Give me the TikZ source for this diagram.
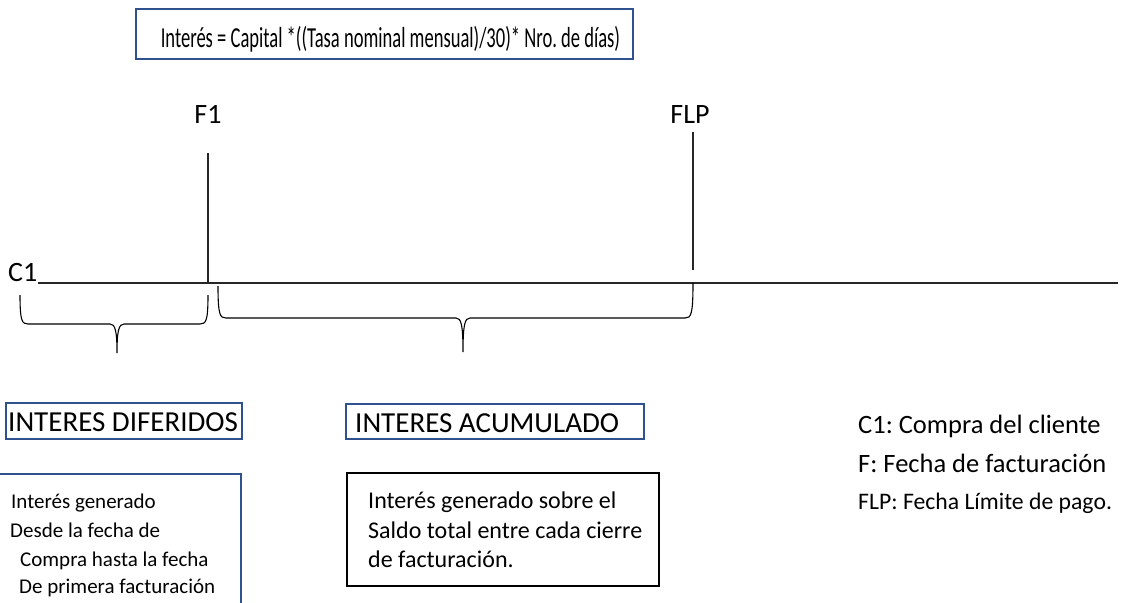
\documentclass[tikz,border=0pt]{standalone}
\usepackage{fontspec}
\setmainfont{Carlito}
\usepackage{graphicx}
\frenchspacing
\definecolor{boxblue}{HTML}{2F528F}
\tikzset{
  bluebox/.style={draw=boxblue, line width=1.6pt, inner sep=0pt},
  blackbox/.style={draw=black, line width=1.5pt, inner sep=0pt},
  txt/.style={inner sep=0pt, anchor=base west},
  tick/.style={draw=black!85, line width=1.2pt},
  bracestyle/.style={draw=black, line width=1.1pt},
}
\newcommand{\fs}[1]{\fontsize{#1}{#1}\selectfont}
\begin{document}
\begin{tikzpicture}[x=1pt, y=-1pt]
\useasboundingbox (0,0) rectangle (1131,602);
% title
\node[bluebox, minimum width=497pt, minimum height=50pt] (titlebox) at (384.5,34) {};
\node[inner sep=0pt, anchor=base] (title) at (390.5,48) {\scalebox{0.64}[1]{\fs{29}Interés = Capital *((Tasa nominal mensual)/30)* Nro. de días)}};
% labels
\node[inner sep=0pt, anchor=base] (F1) at (208,123) {\fs{28}F1};
\node[inner sep=0pt, anchor=base] (FLP) at (690,123) {\fs{28}FLP};
\node[txt] (C1) at (8,281) {\fs{28}C1};
% timeline
\coordinate (lineS) at (38,283);
\coordinate (lineE) at (1118,283);
\coordinate (f1top) at (208,153);
\coordinate (f1bot) at (208,283);
\coordinate (flptop) at (693,132);
\coordinate (flpbot) at (693,270);
\draw[tick] (lineS) -- (lineE);
\draw[tick] (f1top) -- (f1bot);
\draw[tick] (flptop) -- (flpbot);
% braces
\draw[bracestyle] (20,295) .. controls (20,321) and (22,324) .. (28,324) -- (110,324)
  .. controls (115,324) and (117,330) .. (117,353)
  .. controls (117,330) and (119,324) .. (124,324) -- (200,324)
  .. controls (206,324) and (208,321) .. (208,295);
\draw[bracestyle] (218,286) .. controls (218,315) and (220,318) .. (226,318) -- (456,318)
  .. controls (461,318) and (463,324) .. (463,352)
  .. controls (463,324) and (465,318) .. (470,318) -- (685,318)
  .. controls (691,318) and (693,315) .. (693,283);
% headings
\node[bluebox, minimum width=236pt, minimum height=36pt] (difbox) at (124,421) {};
\node[txt] (dif) at (8,431) {\fs{29}INTERES DIFERIDOS};
\node[bluebox, minimum width=298pt, minimum height=35pt] (acubox) at (495,421.5) {};
\node[txt] (acu) at (355,432) {\fs{29}INTERES ACUMULADO};
% left description box
\node[bluebox, minimum width=251pt, minimum height=140pt] (difdesc) at (115.5,544) {};
\node[txt] (d1) at (11,508) {\fs{21}Interés generado};
\node[txt] (d2) at (10,537) {\fs{21}Desde la fecha de};
\node[txt] (d3) at (20,566) {\fs{21}Compra hasta la fecha};
\node[txt] (d4) at (19,593) {\fs{21}De primera facturación};
% middle description box
\node[blackbox, minimum width=312pt, minimum height=113pt] (acudesc) at (503,529.5) {};
\node[txt] (a1) at (368,508) {\fs{24}Interés generado sobre el};
\node[txt] (a2) at (368,538) {\fs{24}Saldo total entre cada cierre};
\node[txt] (a3) at (368,567) {\fs{24}de facturación.};
% legend
\node[txt] (l1) at (858,433) {\fs{26.5}C1: Compra del cliente};
\node[txt] (l2) at (858,472) {\fs{26.5}F: Fecha de facturación};
\node[txt] (l3) at (858,509) {\fs{23.7}FLP: Fecha Límite de pago.};
\end{tikzpicture}
\end{document}
